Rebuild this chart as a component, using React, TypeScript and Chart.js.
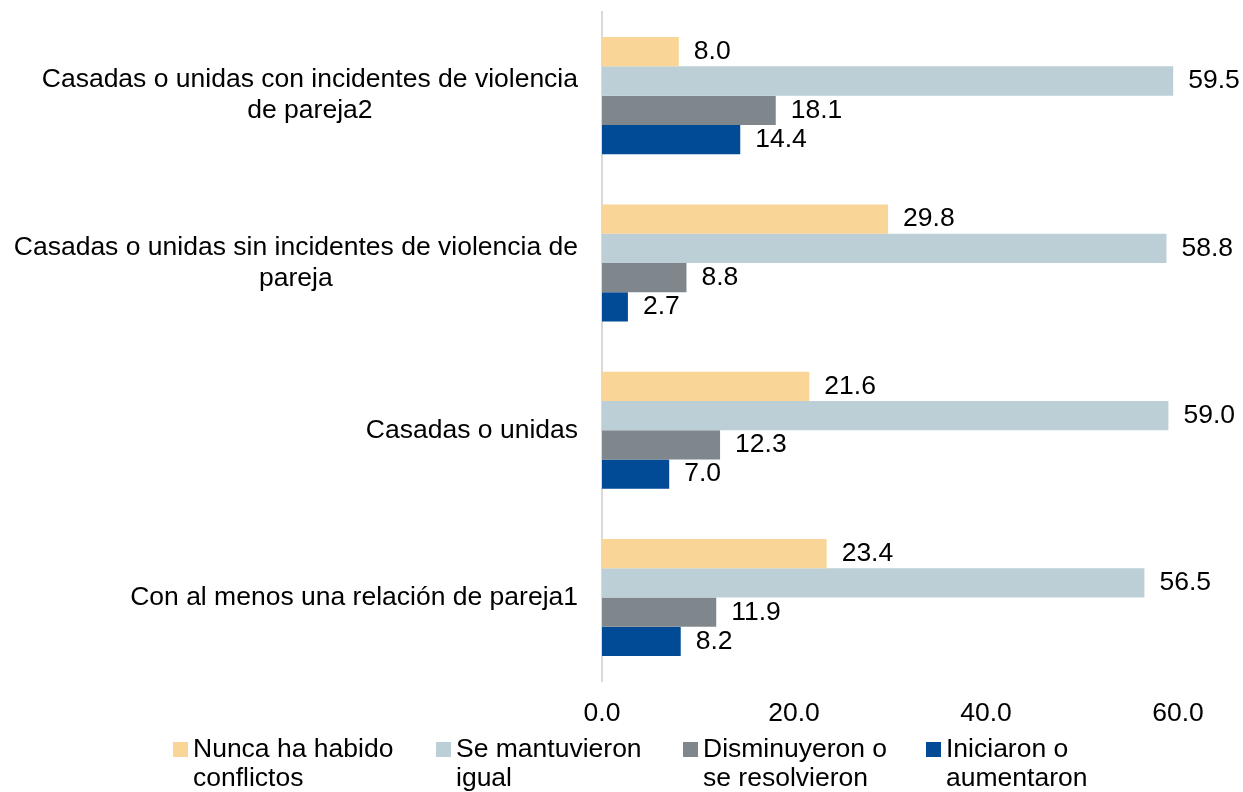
import React, { useEffect, useRef } from "react";
import { Chart, registerables } from "chart.js";

Chart.register(...registerables);

const categories: string[][] = [
  ["Casadas o unidas con incidentes de violencia", "de pareja2"],
  ["Casadas o unidas sin incidentes de violencia de", "pareja"],
  ["Casadas o unidas"],
  ["Con al menos una relación de pareja1"],
];

const seriesNames: string[][] = [
  ["Nunca ha habido", "conflictos"],
  ["Se mantuvieron", "igual"],
  ["Disminuyeron o", "se resolvieron"],
  ["Iniciaron o", "aumentaron"],
];

const nuncaConflictos = [8.0, 29.8, 21.6, 23.4];
const mantuvieronIgual = [59.5, 58.8, 59.0, 56.5];
const disminuyeron = [18.1, 8.8, 12.3, 11.9];
const iniciaron = [14.4, 2.7, 7.0, 8.2];

const xTicks = [0, 20, 40, 60];

const colors = ["#F9D597", "#BDCFD6", "#7F878C", "#004A96"];

const FONT = '"Liberation Sans", Arial, sans-serif';
const FS = 26.5;

export default function App() {
  const ref = useRef<HTMLCanvasElement | null>(null);

  useEffect(() => {
    if (!ref.current) return;

    const labelsPlugin = {
      id: "customLabels",
      afterDraw(chart: any) {
        const ctx = chart.ctx;
        const yScale = chart.scales.y;
        const area = chart.chartArea;
        ctx.save();
        ctx.font = `${FS}px ${FONT}`;
        ctx.fillStyle = "#000000";
        ctx.textBaseline = "middle";
        // category labels: block right-aligned, lines centered
        categories.forEach((lines, i) => {
          const y = yScale.getPixelForValue(i);
          const maxW = Math.max(...lines.map((l) => ctx.measureText(l).width));
          const right = area.left - 24;
          const cx = right - maxW / 2;
          ctx.textAlign = "center";
          lines.forEach((l, j) => {
            ctx.fillText(l, cx, y + (j - (lines.length - 1) / 2) * 31);
          });
        });
        // data labels
        ctx.textAlign = "left";
        chart.data.datasets.forEach((ds: any, di: number) => {
          const meta = chart.getDatasetMeta(di);
          meta.data.forEach((bar: any, i: number) => {
            const v = ds.data[i];
            ctx.fillText(v.toFixed(1), bar.x + 15, bar.y);
          });
        });
        // legend
        const legendX = [173, 436, 683, 926];
        seriesNames.forEach((lines, i) => {
          const x = legendX[i];
          ctx.fillStyle = colors[i];
          ctx.fillRect(x, 742, 15, 15);
          ctx.fillStyle = "#000000";
          ctx.textAlign = "left";
          lines.forEach((l, j) => {
            ctx.fillText(l, x + 20, 750 + j * 29);
          });
        });
        ctx.restore();
      },
    };

    const chart = new Chart(ref.current, {
      type: "bar",
      data: {
        labels: categories.map((c) => c.join(" ")),
        datasets: [
          { label: seriesNames[0].join(" "), data: nuncaConflictos, backgroundColor: colors[0] },
          { label: seriesNames[1].join(" "), data: mantuvieronIgual, backgroundColor: colors[1] },
          { label: seriesNames[2].join(" "), data: disminuyeron, backgroundColor: colors[2] },
          { label: seriesNames[3].join(" "), data: iniciaron, backgroundColor: colors[3] },
        ],
      },
      options: {
        indexAxis: "y",
        animation: false,
        responsive: true,
        maintainAspectRatio: false,
        layout: { padding: { left: 602, right: 65, top: 12, bottom: 45 } },
        datasets: { bar: { categoryPercentage: 0.7, barPercentage: 1.0 } },
        plugins: {
          legend: { display: false },
          tooltip: { enabled: false },
        },
        scales: {
          x: {
            min: 0,
            max: 60,
            afterBuildTicks: (scale: any) => {
              scale.ticks = xTicks.map((v) => ({ value: v }));
            },
            ticks: {
              padding: 17,
              color: "#000000",
              font: { size: FS, family: FONT },
              callback: (v: any) => Number(v).toFixed(1),
            },
            grid: { display: false, drawTicks: false },
            border: { display: false },
          },
          y: {
            ticks: { display: false },
            grid: { display: false, drawTicks: false },
            border: { display: true, color: "#D9D9D9", width: 2 },
          },
        },
      },
      plugins: [labelsPlugin],
    });

    return () => chart.destroy();
  }, []);

  return (
    <div style={{ position: "fixed", left: 0, top: 0, width: 1243, height: 792, background: "#ffffff" }}>
      <canvas ref={ref} />
    </div>
  );
}
